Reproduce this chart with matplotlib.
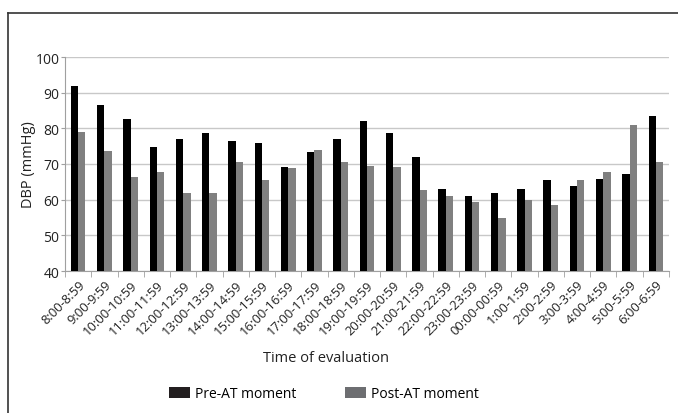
import matplotlib
matplotlib.use("Agg")
import matplotlib.pyplot as plt
import numpy as np
from matplotlib.lines import Line2D
from matplotlib.patches import Patch

plt.rcParams['font.family'] = ['Open Sans', 'DejaVu Sans']

categories = ["8:00-8:59", "9:00-9:59", "10:00-10:59", "11:00-11:59", "12:00-12:59",
              "13:00-13:59", "14:00-14:59", "15:00-15:59", "16:00-16:59", "17:00-17:59",
              "18:00-18:59", "19:00-19:59", "20:00-20:59", "21:00-21:59", "22:00-22:59",
              "23:00-23:59", "00:00-00:59", "1:00-1:59", "2:00-2:59", "3:00-3:59",
              "4:00-4:59", "5:00-5:59", "6:00-6:59"]
pre_at = [92, 86.5, 82.6, 74.7, 76.9, 78.8, 76.5, 75.8, 69.2, 73.5, 76.9, 82.1, 78.8,
          72.0, 63.1, 60.9, 61.8, 63.1, 65.5, 63.9, 65.9, 67.3, 83.4]
post_at = [78.9, 73.7, 66.3, 67.8, 62.0, 61.8, 70.7, 65.5, 69.0, 74.0, 70.7, 69.4, 69.2,
           62.6, 61.1, 59.3, 54.8, 59.8, 58.4, 65.5, 67.7, 81.0, 70.7]
yticks = [40, 50, 60, 70, 80, 90, 100]

fig = plt.figure(figsize=(6.78, 4.14), dpi=100)
ax = fig.add_axes([65/678, 1-272/414, (669-65)/678, (272-58)/414])

x = np.arange(len(categories))
w = 0.28
ax.bar(x - w/2, pre_at, width=w, bottom=0, color='#000000', zorder=3)
ax.bar(x + w/2, post_at, width=w, bottom=0, color='#808080', zorder=3)

ax.set_ylim(40, 100)
ax.set_xlim(-0.5, len(categories) - 0.5)
ax.set_yticks(yticks)
ax.yaxis.grid(True, color='#c8c8c8', linewidth=1, zorder=0)
ax.tick_params(axis='y', length=3, color='#a0a0a0', labelsize=10, pad=1, labelcolor='#222222')
ax.set_xticks(x)
ax.set_xticklabels(categories, rotation=45, ha='right', rotation_mode='anchor',
                   fontsize=9.4, color='#222222')
ax.set_xticks(np.arange(len(categories) + 1) - 0.5, minor=True)
ax.tick_params(axis='x', which='major', length=0, pad=5)
ax.tick_params(axis='x', which='minor', length=4, color='#a0a0a0')
for s in ['top', 'right']:
    ax.spines[s].set_visible(False)
ax.spines['left'].set_color('#a0a0a0')
ax.spines['bottom'].set_color('#a0a0a0')

fig.text(28/678, 1-165/414, "DBP (mmHg)", rotation=90, ha='center', va='center',
         fontsize=10.5, color='#222222')
fig.text(326/678, 1-359/414, "Time of evaluation", ha='center', va='center',
         fontsize=10.5, color='#222222')

handles = [Patch(facecolor='#231f20', edgecolor='none'),
           Patch(facecolor='#6d6e71', edgecolor='none')]
fig.legend(handles, ["Pre-AT moment", "Post-AT moment"], loc='center',
           bbox_to_anchor=(324/678, 1-395/414), ncol=2, frameon=False,
           fontsize=10, handlelength=1.5, handleheight=0.9, columnspacing=3.5,
           handletextpad=0.4)

fig.add_artist(Line2D([8/678, 8/678], [0, 1-14/414], transform=fig.transFigure,
                      color='#333333', linewidth=1.2))
fig.add_artist(Line2D([8/678, 1], [1-14/414, 1-14/414], transform=fig.transFigure,
                      color='#333333', linewidth=1.2))

fig.savefig("out.png", dpi=100)
